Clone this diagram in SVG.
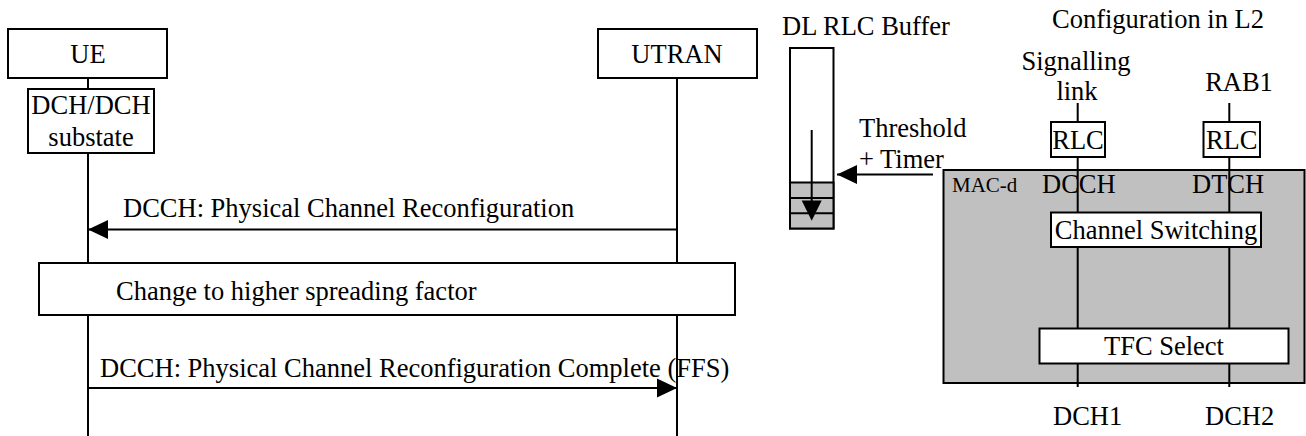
<svg xmlns="http://www.w3.org/2000/svg" width="1306" height="436" viewBox="0 0 1306 436">
<style>
.box{fill:#fff;stroke:#000;stroke-width:2}
.ln{stroke:#000;stroke-width:2;fill:none}
.gray{fill:#c0c0c0;stroke:#000;stroke-width:2}
</style>
<defs>
<marker id="ah" markerUnits="userSpaceOnUse" markerWidth="22" markerHeight="22" refX="20" refY="10" orient="auto">
<path d="M0,0.5 L20,10 L0,19.5 Z" fill="#000"/>
</marker>
</defs>
<g id="ue">
<rect class="box" x="8" y="29" width="159" height="49"/>
<text font-family="Liberation Serif" font-size="26.5" text-anchor="middle" x="88" y="63">UE</text>
</g>
<g id="utran">
<rect class="box" x="598" y="29" width="159" height="49"/>
<text font-family="Liberation Serif" font-size="26.5" text-anchor="middle" x="677" y="63">UTRAN</text>
</g>
<g id="lifelines">
<line class="ln" x1="88" y1="78" x2="88" y2="89"/>
<line class="ln" x1="88" y1="153" x2="88" y2="263"/>
<line class="ln" x1="88" y1="315" x2="88" y2="436"/>
<line class="ln" x1="677" y1="78" x2="677" y2="263"/>
<line class="ln" x1="677" y1="315" x2="677" y2="436"/>
</g>
<g id="substate">
<rect class="box" x="28" y="89" width="126" height="64"/>
<text font-family="Liberation Serif" font-size="26.5" text-anchor="middle" x="91" y="114">DCH/DCH</text>
<text font-family="Liberation Serif" font-size="26.5" text-anchor="middle" x="91" y="146">substate</text>
</g>
<g id="change">
<rect class="box" x="39" y="263" width="696" height="52"/>
<text font-family="Liberation Serif" font-size="26.5" x="116" y="300">Change to higher spreading factor</text>
</g>
<g id="connectors">
<line class="ln" x1="677" y1="229.5" x2="88" y2="229.5" marker-end="url(#ah)"/>
<line class="ln" x1="88" y1="388" x2="677" y2="388" marker-end="url(#ah)"/>
<line class="ln" x1="933" y1="174.5" x2="837" y2="174.5" marker-end="url(#ah)"/>
<line class="ln" x1="811.7" y1="130" x2="811.7" y2="220.5" marker-end="url(#ah)"/>
</g>
<g id="labels">
<text font-family="Liberation Serif" font-size="26.5" x="123" y="217">DCCH: Physical Channel Reconfiguration</text>
<text font-family="Liberation Serif" font-size="26.5" x="100" y="377">DCCH: Physical Channel Reconfiguration Complete (FFS)</text>
</g>
<g id="buffer">
<text font-family="Liberation Serif" font-size="26.5" x="782" y="35">DL RLC Buffer</text>
<rect class="box" x="790" y="48" width="43.5" height="180.5"/>
<rect class="gray" x="790" y="182.5" width="43.5" height="46"/>
<line class="ln" x1="790" y1="198" x2="833.5" y2="198"/>
<line class="ln" x1="790" y1="213.3" x2="833.5" y2="213.3"/>
<line class="ln" x1="811.7" y1="130" x2="811.7" y2="205"/>
<path d="M801.7,200.5 L821.7,200.5 L811.7,220.7 Z" fill="#000"/>
<text font-family="Liberation Serif" font-size="26.5" x="859" y="137">Threshold</text>
<text font-family="Liberation Serif" font-size="26.5" x="859" y="168">+ Timer</text>
</g>
<g id="macd">
<rect class="gray" x="943.5" y="170" width="361" height="213"/>
<text font-family="Liberation Serif" font-size="21" x="952" y="192.3">MAC-d</text>
</g>
<g id="l2">
<text font-family="Liberation Serif" font-size="26.5" x="1052" y="28">Configuration in L2</text>
<text font-family="Liberation Serif" font-size="26.5" text-anchor="middle" x="1076" y="70">Signalling</text>
<text font-family="Liberation Serif" font-size="26.5" text-anchor="middle" x="1077" y="100">link</text>
<text font-family="Liberation Serif" font-size="26.5" text-anchor="middle" x="1239" y="91">RAB1</text>
<line class="ln" x1="1077.7" y1="103" x2="1077.7" y2="387"/>
<line class="ln" x1="1229.3" y1="103" x2="1229.3" y2="387"/>
<text font-family="Liberation Serif" font-size="26.5" x="1042" y="193">DCCH</text>
<text font-family="Liberation Serif" font-size="26.5" x="1192" y="193">DTCH</text>
</g>
<g id="rlc1">
<rect class="box" x="1051" y="122" width="54" height="35"/>
<text font-family="Liberation Serif" font-size="26.5" text-anchor="middle" x="1078" y="148.5">RLC</text>
</g>
<g id="rlc2">
<rect class="box" x="1203.5" y="122" width="56.5" height="35"/>
<text font-family="Liberation Serif" font-size="26.5" text-anchor="middle" x="1231.7" y="148.5">RLC</text>
</g>
<g id="switching">
<rect class="box" x="1051" y="212.5" width="210" height="34.5"/>
<text font-family="Liberation Serif" font-size="26.5" text-anchor="middle" x="1156" y="238.5">Channel Switching</text>
</g>
<g id="tfc">
<rect class="box" x="1039.5" y="328.5" width="249" height="35"/>
<text font-family="Liberation Serif" font-size="26.5" text-anchor="middle" x="1164" y="355">TFC Select</text>
</g>
<g id="dch">
<text font-family="Liberation Serif" font-size="26.5" x="1053" y="425">DCH1</text>
<text font-family="Liberation Serif" font-size="26.5" x="1205" y="425">DCH2</text>
</g>
</svg>
